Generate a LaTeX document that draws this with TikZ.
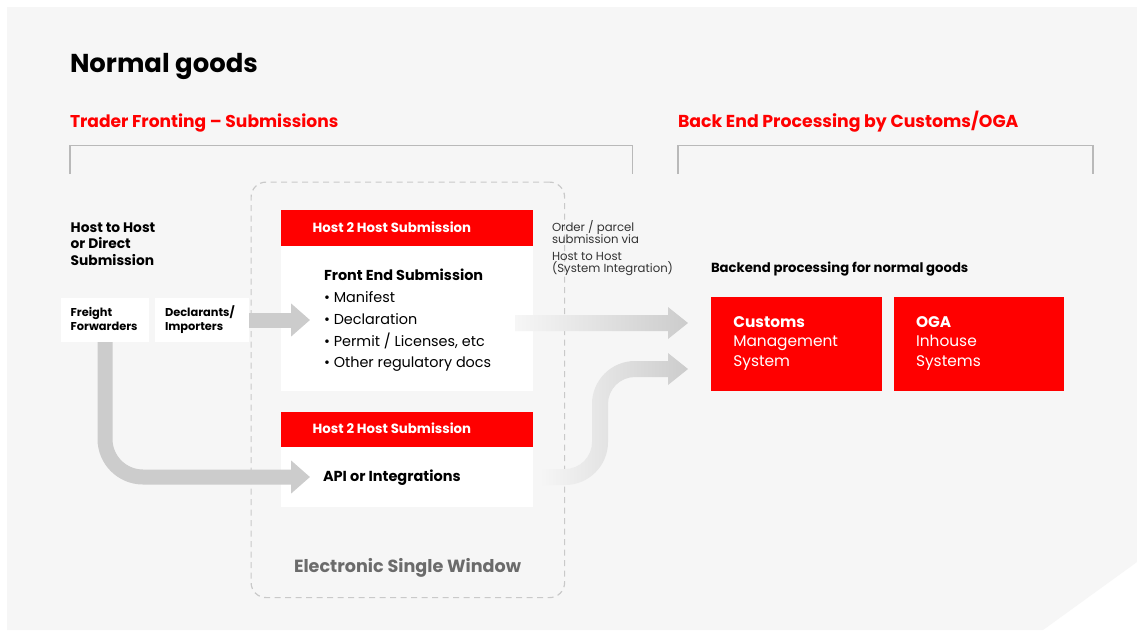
\documentclass[tikz,border=0pt]{standalone}
\usepackage{fontspec}
\setmainfont{Poppins}
\usetikzlibrary{arrows.meta}

\definecolor{panel}{HTML}{F6F6F6}
\definecolor{brand}{HTML}{FF0000}
\definecolor{rulegray}{HTML}{B9B9B9}
\definecolor{dashgray}{HTML}{C9C9C9}
\definecolor{flow}{HTML}{CCCCCC}
\definecolor{eswgray}{HTML}{6B6B6B}
\definecolor{notegray}{HTML}{333333}

\newcommand{\fsz}[2]{\fontsize{#1}{#2}\selectfont}

\begin{document}
\begin{tikzpicture}[x=1pt,y=-1pt,
  % multi-line texts are placed at the baseline of their last line
  txt/.style={anchor=base west, inner sep=0pt, outer sep=0pt, align=left},
  card/.style={anchor=north west, inner sep=0pt, outer sep=0pt, fill=white},
  redcard/.style={card, fill=brand},
  bracketline/.style={draw=rulegray, line width=1.4pt},
  flowline/.style={draw=flow, line width=15pt,
    -{Triangle[length=19pt,width=32pt]}},
]
\useasboundingbox (0,0) rectangle (1137,630);
\fill[white] (0,0) rectangle (1137,630);
\fill[panel] (7,7) -- (1137,7) -- (1137,562) -- (1043,630) -- (7,630) -- cycle;

% headings
\node[txt, font=\fsz{25.9}{30}\bfseries] (title) at (70,72) {Normal goods};
\node[txt, text=brand, font=\fsz{17.1}{20}\bfseries] (front) at (70,127) {Trader Fronting – Submissions};
\node[txt, text=brand, font=\fsz{17.3}{20}\bfseries] (back) at (678,127.4) {Back End Processing by Customs/OGA};

% section brackets
\draw[bracketline] (70,174) -- (70,145.5) -- (632.5,145.5) -- (632.5,174);
\draw[bracketline] (678,174) -- (678,145.5) -- (1093,145.5) -- (1093,174);

% single window frame
\node[anchor=north west, inner sep=0pt, minimum width=313.5pt, minimum height=415.5pt,
  draw=dashgray, line width=1.2pt, dash pattern=on 6pt off 4.5pt, rounded corners=15pt]
  (esw) at (250.5,181.5) {};
\node[txt, text=eswgray, font=\fsz{17.6}{20}\bfseries] (eswlabel) at (294,572.7) {Electronic Single Window};

% traders
\node[txt, font=\fsz{13.8}{16.5}\bfseries] (hth) at (70.7,265) {Host to Host\\or Direct\\Submission};
\node[card, minimum width=88pt, minimum height=44pt] (ff) at (61,298) {};
\node[card, minimum width=94pt, minimum height=44pt] (decl) at (155,298) {};
\node[txt, font=\fsz{11.4}{14}\bfseries] (fftext) at (70.7,330) {Freight\\Forwarders};
\node[txt, font=\fsz{11.4}{14}\bfseries] (decltext) at (165,330) {Declarants/\\Importers};

% host 2 host submission cards
\node[redcard, minimum width=252pt, minimum height=36pt] (h1head) at (281,210) {};
\node[card, minimum width=252pt, minimum height=145pt] (h1body) at (281,246) {};
\node[txt, text=white, font=\fsz{13.3}{16}\bfseries] (h1label) at (312.7,232) {Host 2 Host Submission};
\node[txt, font=\fsz{14.4}{21.7}] (fes) at (324,367.7)
  {\textbf{Front End Submission}\\• Manifest\\• Declaration\\• Permit / Licenses, etc\\• Other regulatory docs};

\node[redcard, minimum width=252pt, minimum height=35pt] (h2head) at (281,412) {};
\node[card, minimum width=252pt, minimum height=60pt] (apibody) at (281,447) {};
\node[txt, text=white, font=\fsz{13.3}{16}\bfseries] (h2label) at (312.7,433) {Host 2 Host Submission};
\node[txt, font=\fsz{14.5}{17}\bfseries] (api) at (323,481.7) {API or Integrations};

% back end
\node[txt, text=notegray, font=\fsz{11.7}{12.5}] (note) at (552,272.5)
  {Order / parcel\\submission via\\[4pt]Host to Host\\(System Integration)};
\node[txt, font=\fsz{13.2}{16}\bfseries] (backend) at (711,272) {Backend processing for normal goods};
\node[redcard, minimum width=171pt, minimum height=94pt] (cms) at (711,297) {};
\node[redcard, minimum width=170pt, minimum height=94pt] (oga) at (894,297) {};
\node[txt, text=white, font=\fsz{15.4}{19.4}] (cmstext) at (733.3,366) {\textbf{Customs}\\Management\\System};
\node[txt, text=white, font=\fsz{15.4}{19.4}] (ogatext) at (916,366) {\textbf{OGA}\\Inhouse\\Systems};

% trader flows into the single window
\draw[flowline] (decl.east) -- ([xshift=29pt]h1body.west |- decl.east);
\draw[flowline, rounded corners=38pt] (ff.south) |- ([xshift=29pt]apibody.west);

% flows out to back end processing (fading in from the window)
\begin{scope}[shift={(cms.west)}]
  % straight arrow to customs
  \shade[left color=panel, right color=flow]
    (-196,-29) -- (-43,-29) -- (-43,-37) -- (-23,-21) -- (-43,-5) -- (-43,-13) -- (-196,-13) -- cycle;
  % s-curve from the API card
  \shade[left color=panel, right color=flow]
    (-171,125) -- (-146,125) .. controls (-131.1,125) and (-119,112.9) .. (-119,98)
    -- (-119,60) .. controls (-119,36.25) and (-99.75,17) .. (-76,17)
    -- (-43,17) -- (-43,9) -- (-23,25) -- (-43,41) -- (-43,33)
    -- (-76,33) .. controls (-90.9,33) and (-103,45.1) .. (-103,60)
    -- (-103,98) .. controls (-103,121.75) and (-122.25,141) .. (-146,141)
    -- (-171,141) -- cycle;
\end{scope}
\end{tikzpicture}
\end{document}
